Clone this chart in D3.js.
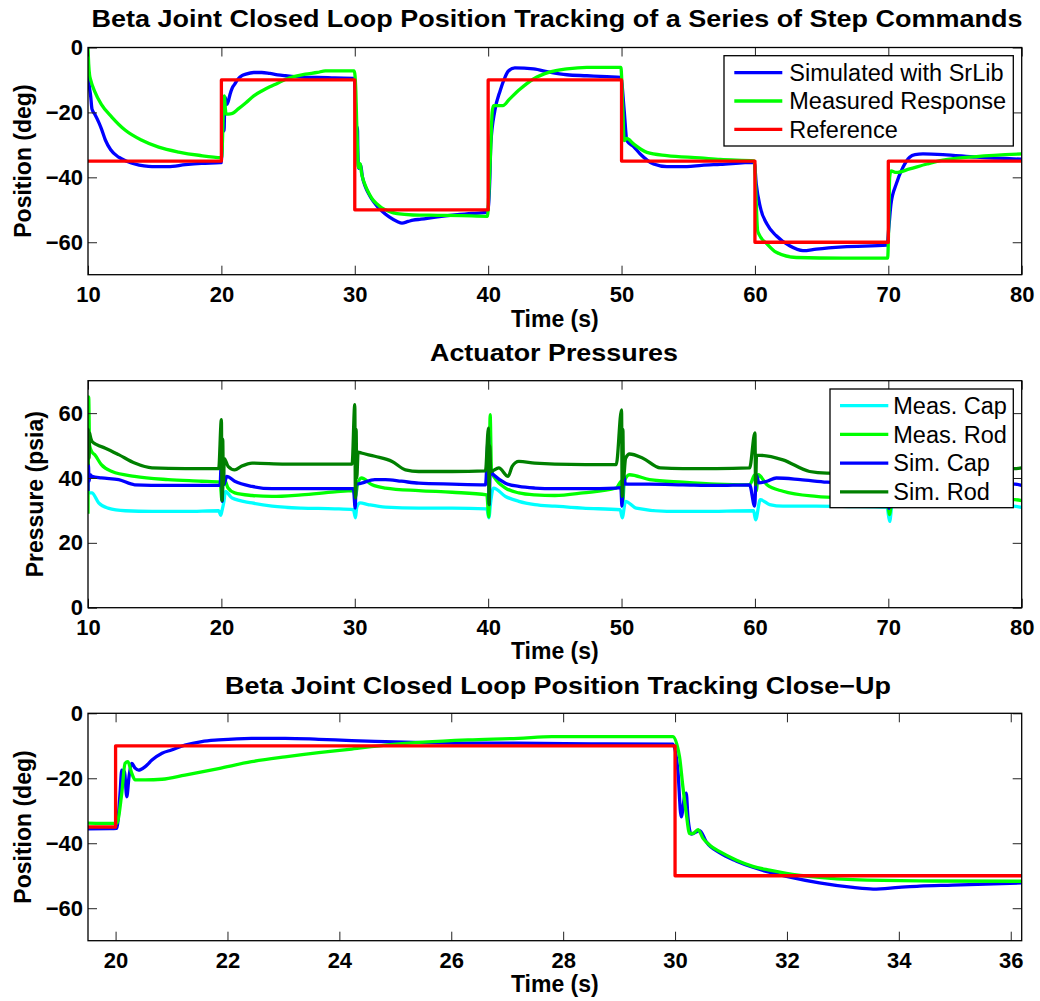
<!DOCTYPE html>
<html><head><meta charset="utf-8">
<script src="https://cdn.jsdelivr.net/npm/d3@7"></script>
<style>
body{margin:0;background:#fff;}
text{font-family:"Liberation Sans",Arial,Helvetica,sans-serif;}
</style></head><body>
<svg id="fig" width="1040" height="1001"></svg>
<script>
// ---- Beta joint step test data (time in s, position in deg, pressure in psia) ----
const stepTimes  = [10, 20, 30, 40, 50, 60, 70, 80];
const stepLevels = [-35, -10, -50, -10, -35, -60, -35, -35];

const simulatedPos = [
  [10.0,-8],[10.1,-12],[10.2,-15],[10.3,-19],[10.5,-20.5],[10.8,-23],[11.0,-25],[11.3,-28.5],
  [11.7,-31.5],[12.3,-33.8],[13.0,-35.2],[13.5,-35.9],[14.2,-36.5],[14.8,-36.7],[16.0,-36.7],
  [17.3,-36.1],[18.5,-35.7],[19.9,-35.5],[20.02,-35.4],[20.08,-24.6],[20.11,-17.5],[20.16,-18],
  [20.2,-25.7],[20.24,-19.5],[20.29,-15.4],[20.35,-16.9],[20.41,-17.5],[20.53,-16.4],[20.65,-14.4],
  [20.83,-12.3],[21.0,-11.3],[21.24,-9.8],[21.54,-8.7],[21.84,-8.2],[22.43,-7.7],[23.03,-7.7],
  [23.63,-8.0],[24.22,-8.4],[24.82,-8.7],[25.5,-9.0],[26.5,-9.2],[27.2,-9.2],[28.5,-9.4],[29.96,-9.5],
  [30.05,-17.5],[30.11,-31.9],[30.17,-25.7],[30.2,-24.6],[30.23,-31.9],[30.29,-37.2],[30.44,-36.1],
  [30.56,-39.6],[30.8,-43],[31.1,-45.5],[31.39,-47.4],[31.7,-49],[31.99,-50.2],[32.58,-52.2],
  [33.18,-53.6],[33.54,-54.1],[34.0,-53.6],[34.37,-53.2],[34.96,-52.9],[36.2,-52.2],[37.5,-51.6],
  [38.8,-51.1],[39.95,-50.8],[40.13,-40],[40.2,-29.7],[40.5,-19.5],[40.9,-13.3],[41.26,-9.2],
  [41.5,-7.3],[42.0,-6.3],[43.4,-6.6],[44.6,-7.6],[45.9,-8.4],[47.4,-8.7],[48.9,-9.0],[49.95,-9.2],
  [50.2,-19.5],[50.4,-28.7],[50.9,-30.5],[51.4,-32.8],[52.4,-35.9],[53.4,-36.7],[54.9,-36.7],
  [56.0,-36.3],[57.4,-36.0],[59.95,-35.4],[60.1,-42],[60.4,-49.2],[60.9,-54.4],[61.6,-58],
  [62.6,-61.1],[63.6,-62.6],[64.6,-62.1],[66.6,-61.4],[69.9,-60.9],[70.05,-55],[70.2,-48.2],
  [70.6,-42],[71.1,-36.9],[71.6,-33.8],[72.0,-33.0],[72.6,-32.8],[74.1,-33.0],[76.6,-33.8],[80,-34.4]
];

const measuredPos = [
  [10.0,0],[10.05,-5],[10.12,-8.5],[10.2,-10],[10.5,-13.5],[11.0,-17.5],[11.8,-21.5],[12.8,-25.5],
  [14.0,-28.5],[15.3,-30.7],[16.8,-32.2],[18.3,-33.2],[20.02,-33.9],[20.11,-24.7],[20.17,-15.4],
  [20.22,-14.9],[20.29,-18.5],[20.35,-20.5],[20.53,-20.5],[20.83,-20.3],[21.24,-19],[21.84,-17],
  [22.43,-14.9],[23.03,-13.4],[23.63,-12.1],[24.22,-11],[24.82,-9.8],[25.5,-8.9],[26.3,-8.2],
  [27.2,-7.7],[27.8,-7.2],[29.96,-7.2],[30.08,-13.4],[30.14,-22.6],[30.2,-30.8],[30.26,-37],
  [30.32,-37],[30.41,-35.8],[30.5,-38.5],[30.62,-40.6],[30.8,-42.6],[31.1,-45.2],[31.39,-47.1],
  [31.69,-48.3],[31.99,-49.3],[32.58,-50.5],[33.18,-51.2],[34.37,-51.6],[36.2,-51.7],[38,-51.8],
  [39.95,-52],[40.05,-45],[40.2,-30],[40.3,-20],[40.4,-17.9],[41.1,-17.9],[41.6,-15.9],[42.4,-12.8],
  [43.4,-9.7],[44.6,-7.6],[45.9,-6.6],[47.4,-6.1],[49.95,-6.1],[50.1,-19.5],[50.2,-28.7],[50.4,-28.0],
  [50.9,-29.7],[51.9,-32.3],[53.4,-33.3],[55.9,-34],[57.4,-34.5],[59.95,-34.9],[60.1,-48.2],
  [60.2,-56.4],[60.3,-57.5],[60.9,-60.5],[61.6,-63.1],[63.1,-64.7],[66.6,-64.9],[69.95,-64.9],
  [70.05,-50.3],[70.1,-40],[70.2,-38],[70.6,-38.5],[71.6,-37.4],[72.9,-35.9],[74.1,-34.7],
  [76.6,-33.6],[80,-32.8]
];

const measCap = [
  [10.0,35.5],[10.3,35.4],[10.8,32.3],[11.5,30.7],[12.8,29.9],[14.8,29.7],[17.3,29.7],[19.8,29.9],
  [19.95,28.5],[20.05,30],[20.2,33],[20.3,35.9],[20.8,33.8],[22.3,32.3],[23.8,31.3],[26.0,30.7],
  [28.5,30.5],[29.9,30.2],[30.05,27.7],[30.15,31],[30.4,32.3],[31.0,31.8],[32.3,31.0],[34.8,30.7],
  [37.3,30.7],[39.9,30.5],[40.05,27.7],[40.2,33],[40.4,36.9],[41.3,34.3],[42.3,32.8],[43.5,31.8],
  [45,31.3],[47.1,30.7],[49.9,30.2],[50.05,27.7],[50.3,32.8],[51.1,30.7],[53.4,29.7],[55.9,29.7],
  [59.9,29.9],[60.05,27.1],[60.4,33.3],[61.1,31.8],[62.1,31.3],[64.6,31.3],[67,31.2],[69.9,31],
  [70.1,26.6],[70.3,32],[72,31.5],[75,31.3],[79.4,31.3],[80,30.9]
];

const measRod = [
  [10.0,29],[10.05,65],[10.12,50],[10.3,48],[10.5,47.2],[11.0,44.1],[11.8,42],[13.5,40.5],[16.0,39.5],
  [18.5,39],[19.9,38.7],[20.05,33],[20.15,40],[20.3,39],[20.5,36.9],[21.0,35.4],[22.3,34.6],[23.8,34.3],
  [26.0,34.8],[28.5,35.7],[29.9,36.1],[30.05,34],[30.2,38],[30.5,40],[31.3,37.9],[32.3,36.9],[34.8,36.1],
  [37.3,35.6],[39.9,34.8],[40.05,28],[40.15,59.5],[40.25,42],[40.5,40],[41.3,36.9],[42.3,35.4],
  [43.5,34.8],[45,34.6],[47.1,35.4],[49.6,36.9],[50.0,39],[50.1,33],[50.2,39],[50.6,41],[52.1,39.5],
  [54.6,38.7],[57.1,38.1],[59.6,37.9],[60.0,41],[60.1,36],[60.25,41],[60.9,37.9],[62.1,35.9],
  [64.6,34.3],[67,33.8],[69.9,33.5],[70.1,28.7],[70.3,36],[72,34.5],[76,33.5],[79.5,33.3],[80,33]
];

const simCap = [
  [10.0,36],[10.03,44],[10.08,39],[10.15,41],[10.3,40.5],[11.0,40],[12.3,39.5],[13.5,37.9],[16.0,37.7],
  [19.9,37.7],[20.02,48.2],[20.06,32.8],[20.12,45],[20.2,38],[20.4,40.5],[21.0,39],[22.3,37.4],
  [23.8,36.7],[27.3,36.7],[29.9,36.7],[30.03,30.7],[30.1,38],[30.5,38.4],[31.5,39.5],[32.3,39.5],
  [33.5,39],[34.8,38.4],[37.3,38.1],[39.8,37.9],[40.02,53.3],[40.08,31.8],[40.15,42],[40.4,41],
  [41.3,38.4],[42.3,37.4],[43.5,36.9],[45,36.7],[47.1,36.7],[49.6,36.9],[49.95,37],[50.03,31.3],
  [50.15,41],[50.3,38.1],[52.1,38.1],[54.6,37.9],[57.1,37.7],[59.6,37.9],[59.98,31.3],[60.1,41],
  [60.3,38.5],[60.9,39],[61.6,40],[63.4,39.5],[65.4,38.7],[68,38.3],[69.9,38.2],[70.05,30.6],
  [70.2,39],[72,38.5],[76,38.2],[79.5,38.1],[80,37.7]
];

const simRod = [
  [10.0,44],[10.03,55],[10.08,46],[10.12,54],[10.15,53.3],[10.3,51.3],[10.65,50.3],[11.3,49.2],
  [12.3,47.2],[13.5,44.6],[14.8,43.1],[17.3,42.9],[19.8,42.9],[20.0,58],[20.05,33],[20.1,52],
  [20.15,38],[20.22,46],[20.5,43.6],[21.0,42.5],[21.5,43.6],[22.3,44.6],[24.8,44.3],[29.8,44.3],
  [30.0,62.6],[30.05,33.8],[30.1,55],[30.15,40],[30.25,48],[30.5,47.7],[31.5,46.7],[32.8,45.1],
  [33.8,42.5],[34.8,42],[37.3,42],[39.8,42.2],[40.02,55.4],[40.07,31.8],[40.12,50],[40.2,42],
  [40.8,43.1],[41.5,40.5],[41.8,43.6],[42.3,45.1],[43.5,44.6],[45,44.3],[49.6,44.1],[50.0,61],
  [50.05,34.3],[50.1,55],[50.15,40],[50.3,46],[50.6,47.4],[51.6,46.1],[52.9,43.1],[54.6,42.9],
  [57.1,42.9],[59.6,43.1],[60.0,53.9],[60.05,37.9],[60.12,47],[60.4,47],[62.1,45.6],[64.1,42],
  [65.4,41.5],[69.8,41.3],[70.0,52],[70.05,33],[70.15,46],[70.5,46],[72,44.5],[74,43],[79.5,42.9],
  [80,43.1]
];

const timeTicks     = [10, 20, 30, 40, 50, 60, 70, 80];
const closeUpTicks  = [20, 22, 24, 26, 28, 30, 32, 34, 36];
const positionTicks = [0, -20, -40, -60];
const pressureTicks = [0, 20, 40, 60];

const positionLegend = ["Simulated with SrLib", "Measured Response", "Reference"];
const pressureLegend = ["Meas. Cap", "Meas. Rod", "Sim. Cap", "Sim. Rod"];

// ---- drawing ----
const svg = d3.select("#fig");
const BLUE = "#0000ff", GREEN = "#00ff00", RED = "#ff0000", CYAN = "#00ffff", DKGREEN = "#008000";
const reference = stepTimes.map((t, i) => [t, stepLevels[i]]);

let clipId = 0;
function drawPanel(cfg) {
  const b = cfg.box;
  const x = d3.scaleLinear().domain(cfg.xDomain).range([b.left, b.right]);
  const y = d3.scaleLinear().domain(cfg.yDomain).range([b.bottom, b.top]);
  const g = svg.append("g");
  const id = "clip" + (clipId++);
  g.append("clipPath").attr("id", id).append("rect")
    .attr("x", b.left).attr("y", b.top).attr("width", b.right - b.left).attr("height", b.bottom - b.top);

  const plot = g.append("g").attr("clip-path", `url(#${id})`);
  cfg.series.forEach(s => {
    const line = d3.line().x(d => x(d[0])).y(d => y(d[1]))
      .curve(s.step ? d3.curveStepAfter : d3.curveMonotoneX);
    plot.append("path").datum(s.data).attr("d", line)
      .attr("fill", "none").attr("stroke", s.color).attr("stroke-width", 3.3)
      .attr("stroke-linejoin", "round").attr("stroke-linecap", "butt");
  });

  const styleAxis = ag => {
    ag.select(".domain").remove();
    ag.selectAll(".tick line").attr("stroke", "#222").attr("stroke-width", 1);
    ag.attr("font-family", null).attr("font-size", null);
    ag.selectAll("text").attr("fill", "#000").style("font-size", "22px").style("font-weight", "bold");
  };
  const tick = 9;
  g.append("g").attr("transform", `translate(0,${b.bottom})`)
    .call(d3.axisBottom(x).tickValues(cfg.xTicks).tickSizeInner(-tick).tickSizeOuter(0).tickPadding(11.5))
    .call(styleAxis);
  g.append("g").attr("transform", `translate(0,${b.top})`)
    .call(d3.axisTop(x).tickValues(cfg.xTicks).tickSizeInner(-tick).tickSizeOuter(0).tickFormat(""))
    .call(styleAxis);
  g.append("g").attr("transform", `translate(${b.left},0)`)
    .call(d3.axisLeft(y).tickValues(cfg.yTicks).tickSizeInner(-tick).tickSizeOuter(0).tickPadding(5))
    .call(styleAxis);
  g.append("g").attr("transform", `translate(${b.right},0)`)
    .call(d3.axisRight(y).tickValues(cfg.yTicks).tickSizeInner(-tick).tickSizeOuter(0).tickFormat(""))
    .call(styleAxis);

  g.append("rect").attr("x", b.left).attr("y", b.top)
    .attr("width", b.right - b.left).attr("height", b.bottom - b.top)
    .attr("fill", "none").attr("stroke", "#000").attr("stroke-width", 1.3);

  g.append("text").attr("x", cfg.titleX).attr("y", cfg.titleY)
    .attr("text-anchor", "middle").style("font-size", "24px").style("font-weight", "bold")
    .attr("textLength", cfg.titleLen).attr("lengthAdjust", "spacingAndGlyphs")
    .text(cfg.title);

  g.append("text").attr("x", (b.left + b.right) / 2).attr("y", cfg.xLabelY)
    .attr("text-anchor", "middle").style("font-size", "23px").style("font-weight", "bold")
    .text("Time (s)");

  g.append("text")
    .attr("transform", `translate(${cfg.yLabelX},${(b.top + b.bottom) / 2}) rotate(-90)`)
    .attr("text-anchor", "middle").style("font-size", "23px").style("font-weight", "bold")
    .text(cfg.yLabel);

  if (cfg.legend) {
    const L = cfg.legend;
    const lg = g.append("g");
    lg.append("rect").attr("x", L.x).attr("y", L.y).attr("width", L.w).attr("height", L.h)
      .attr("fill", "#fff").attr("stroke", "#000").attr("stroke-width", 1.3);
    L.labels.forEach((lab, i) => {
      const yy = L.row0 + i * L.rowStep;
      lg.append("line").attr("x1", L.lineX0).attr("x2", L.lineX1).attr("y1", yy).attr("y2", yy)
        .attr("stroke", L.colors[i]).attr("stroke-width", 3.3);
      lg.append("text").attr("x", L.textX).attr("y", yy).attr("dy", "0.35em")
        .style("font-size", "23.5px").attr("fill", "#000").text(lab);
    });
  }
}

const posSeries = [
  { data: simulatedPos, color: BLUE },
  { data: measuredPos, color: GREEN },
  { data: reference, color: RED, step: true }
];

drawPanel({
  box: { left: 88, right: 1021.7, top: 47.5, bottom: 274.7 },
  xDomain: [10, 80], yDomain: [-70, 0], xTicks: timeTicks, yTicks: positionTicks,
  series: posSeries,
  title: "Beta Joint Closed Loop Position Tracking of a Series of Step Commands",
  titleX: 557, titleY: 26.7, titleLen: 931,
  xLabelY: 326.5, yLabel: "Position (deg)", yLabelX: 30.5,
  legend: { x: 724, y: 55.7, w: 289.3, h: 90.3, row0: 72.7, rowStep: 28.3,
            lineX0: 734.3, lineX1: 782.3, textX: 789.3,
            labels: positionLegend, colors: [BLUE, GREEN, RED] }
});

drawPanel({
  box: { left: 88, right: 1021.7, top: 380.7, bottom: 607.7 },
  xDomain: [10, 80], yDomain: [0, 70], xTicks: timeTicks, yTicks: pressureTicks,
  series: [
    { data: measCap, color: CYAN },
    { data: measRod, color: GREEN },
    { data: simCap, color: BLUE },
    { data: simRod, color: DKGREEN }
  ],
  title: "Actuator Pressures", titleX: 554, titleY: 360.7, titleLen: 248,
  xLabelY: 658.5, yLabel: "Pressure (psia)", yLabelX: 43.3,
  legend: { x: 830, y: 389, w: 183.3, h: 118.7, row0: 405.7, rowStep: 28.7,
            lineX0: 840, lineX1: 888.3, textX: 893.3,
            labels: pressureLegend, colors: [CYAN, GREEN, BLUE, DKGREEN] }
});

drawPanel({
  box: { left: 88, right: 1021.7, top: 713.3, bottom: 940.7 },
  xDomain: [19.507, 36.196], yDomain: [-70, 0], xTicks: closeUpTicks, yTicks: positionTicks,
  series: posSeries,
  title: "Beta Joint Closed Loop Position Tracking Close\u2212Up",
  titleX: 558, titleY: 694, titleLen: 666,
  xLabelY: 991.5, yLabel: "Position (deg)", yLabelX: 30.5
});
</script>
</body></html>
